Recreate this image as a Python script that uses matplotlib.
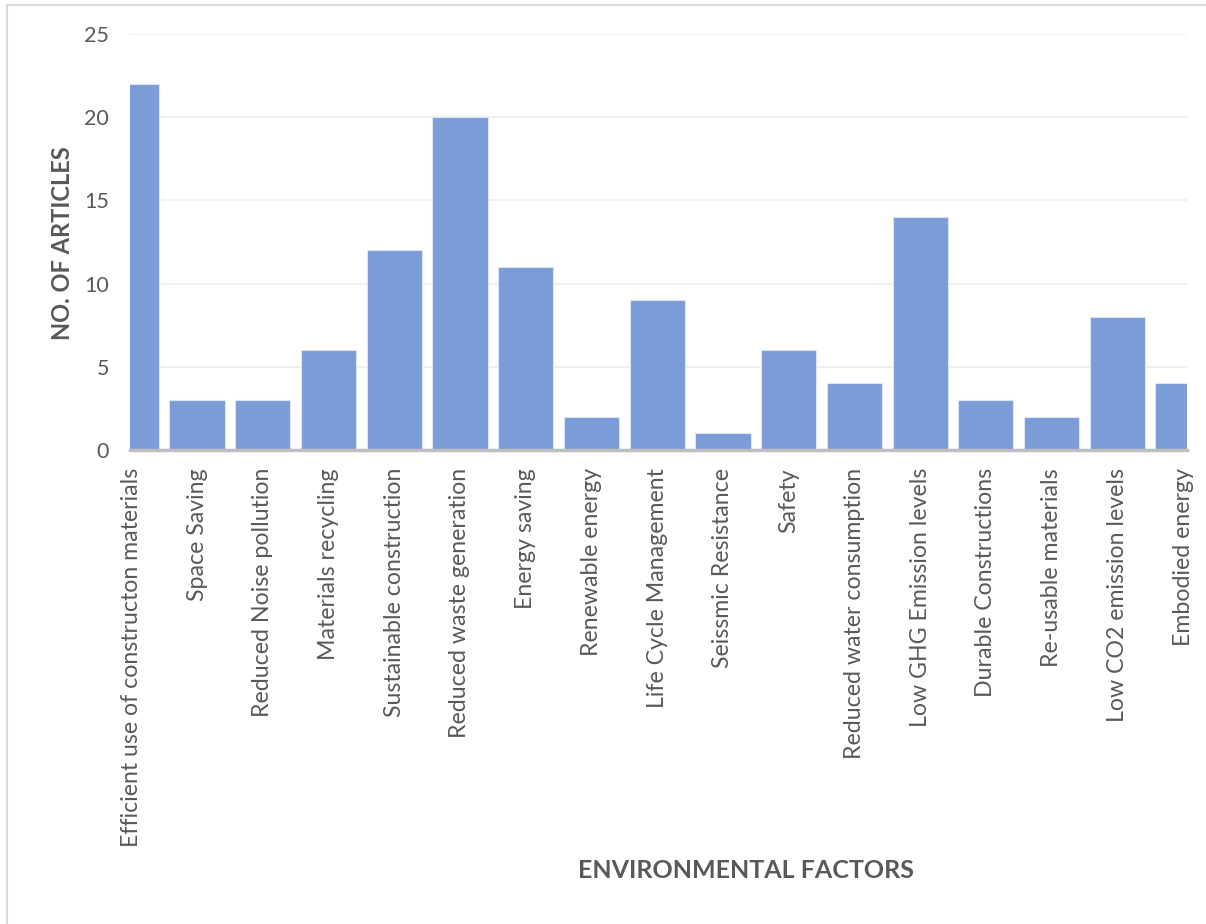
import matplotlib
matplotlib.use('Agg')
import matplotlib.pyplot as plt
from matplotlib.patches import Rectangle

# Environmental factors and number of articles per factor
factors = ['Efficient use of constructon materials', 'Space Saving',
           'Reduced Noise pollution', 'Materials recycling',
           'Sustainable construction', 'Reduced waste generation',
           'Energy saving', 'Renewable energy', 'Life Cycle Management',
           'Seissmic Resistance', 'Safety', 'Reduced water consumption',
           'Low GHG Emission levels', 'Durable Constructions',
           'Re-usable materials', 'Low CO2 emission levels', 'Embodied energy']
articles = [22, 3, 3, 6, 12, 20, 11, 2, 9, 1, 6, 4, 14, 3, 2, 8, 4]
yticks = [0, 5, 10, 15, 20, 25]

bar_color = '#7B9CD6'
text_color = '#595959'

plt.rcParams['font.family'] = ['Lato', 'DejaVu Sans']

W, H = 1206, 924
fig = plt.figure(figsize=(W / 100, H / 100), dpi=100)
ax = fig.add_axes([130 / W, 1 - 450 / H, (1187 - 130) / W, (450 - 34) / H])

x = list(range(len(factors)))
ax.bar(x, articles, width=0.84, color=bar_color, edgecolor='#DCE5F5',
       linewidth=0.8, zorder=3)

ax.set_xlim(-0.02, 16.06)
ax.set_ylim(0, 25)
ax.set_yticks(yticks)
ax.set_xticks(x)
ax.set_xticklabels(factors, rotation=90, fontsize=16.7, color=text_color)
ax.tick_params(axis='y', labelsize=15.5, labelcolor=text_color, length=0, pad=15)
ax.tick_params(axis='x', length=0, pad=13)

ax.grid(axis='y', color='#EDEDED', linewidth=1.2, zorder=0)
for side in ['top', 'right', 'left']:
    ax.spines[side].set_visible(False)
ax.spines['bottom'].set_color('#BFBFBF')
ax.spines['bottom'].set_linewidth(2.5)
ax.spines['bottom'].set_zorder(4)

fig.text(62 / W, 1 - 243 / H, 'NO. OF ARTICLES', rotation=90, fontsize=17,
         fontweight='bold', color=text_color, ha='center', va='center')
fig.text(746 / W, 1 - 870 / H, 'ENVIRONMENTAL FACTORS', fontsize=18,
         fontweight='bold', color=text_color, ha='center', va='center')

# outer chart frame
fig.patches.append(Rectangle((7 / W, -0.1), 1.2, 1 - 5 / H + 0.1,
                             transform=fig.transFigure, fill=False,
                             edgecolor='#D9D9D9', linewidth=1.5))

fig.savefig('out.png', dpi=100)
